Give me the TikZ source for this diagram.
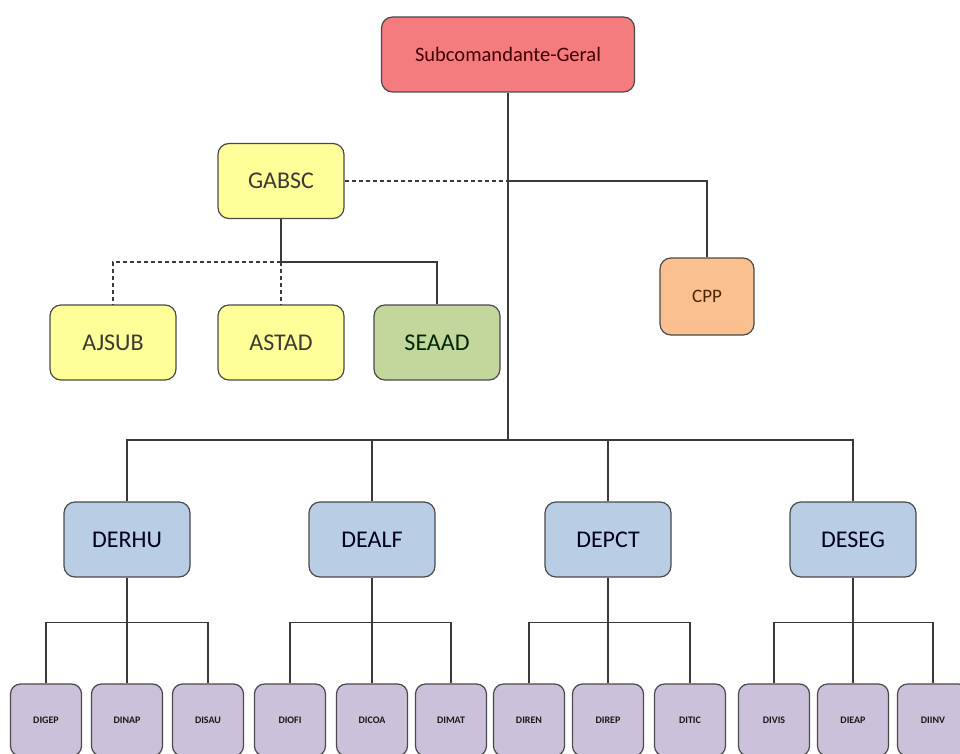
\documentclass[tikz,border=0pt]{standalone}
\usepackage{fontspec}
\setmainfont{Carlito}
\definecolor{redfill}{HTML}{F47B7E}
\definecolor{yelfill}{HTML}{FFFF99}
\definecolor{grnfill}{HTML}{C3D69B}
\definecolor{orgfill}{HTML}{FAC090}
\definecolor{blufill}{HTML}{B9CDE5}
\definecolor{purfill}{HTML}{CCC1DA}
\definecolor{edge}{HTML}{4A4A4A}
\definecolor{wire}{HTML}{3A3A3A}
\tikzset{
  box/.style={draw=edge, line width=1.2pt, rounded corners=11pt, align=center, inner sep=0pt},
  bigbox/.style={box, minimum width=126pt, minimum height=75pt, font=\fontsize{24}{26}\selectfont},
  topbox/.style={box, fill=redfill, minimum width=253pt, minimum height=75pt, text=red!25!black, font=\fontsize{20.5}{22}\selectfont},
  yelbox/.style={bigbox, fill=yelfill, text=yellow!12!black},
  grnbox/.style={bigbox, fill=grnfill, text=green!15!black},
  orgbox/.style={box, fill=orgfill, minimum width=94pt, minimum height=77pt, text=orange!30!black, font=\fontsize{19}{21}\selectfont},
  depbox/.style={bigbox, fill=blufill, text=blue!12!black},
  subbox/.style={box, fill=purfill, minimum width=71pt, minimum height=72pt, rounded corners=10pt, text=black!90, font=\fontsize{10}{12}\selectfont\bfseries},
  wire/.style={draw=wire, line width=1.3pt},
  dwire/.style={wire, dash pattern=on 4pt off 3pt},
}
\begin{document}
\begin{tikzpicture}[x=1pt,y=-1pt]
\clip (0,0) rectangle (960,754);
\fill[white] (0,0) rectangle (960,754);

% command level
\node[topbox] (sub) at (508,54.5) {Subcomandante-Geral};
\node[yelbox] (gabsc) at (281,181) {GABSC};
\node[orgbox] (cpp) at (707,296.5) {CPP};

% advisory units
\node[yelbox] (ajsub) at (113,342.5) {AJSUB};
\node[yelbox] (astad) at (281,342.5) {ASTAD};
\node[grnbox] (seaad) at (437,342.5) {SEAAD};

% departments
\node[depbox] (derhu) at (127,539.5) {DERHU};
\node[depbox] (dealf) at (372,539.5) {DEALF};
\node[depbox] (depct) at (608,539.5) {DEPCT};
\node[depbox] (deseg) at (853,539.5) {DESEG};

% directorates
\node[subbox] (digep) at (46,720) {DIGEP};
\node[subbox] (dinap) at (127,720) {DINAP};
\node[subbox] (disau) at (208,720) {DISAU};
\node[subbox] (diofi) at (290,720) {DIOFI};
\node[subbox] (dicoa) at (372,720) {DICOA};
\node[subbox] (dimat) at (451,720) {DIMAT};
\node[subbox] (diren) at (529,720) {DIREN};
\node[subbox] (direp) at (608,720) {DIREP};
\node[subbox] (ditic) at (690,720) {DITIC};
\node[subbox] (divis) at (774,720) {DIVIS};
\node[subbox] (dieap) at (853,720) {DIEAP};
\node[subbox] (diinv) at (933,720) {DIINV};

% main spine and department bus
\coordinate (bus) at (508,440);
\coordinate (gline) at (508,181);
\draw[wire] (sub.south) -- (bus);
\draw[wire] (derhu.north) |- (bus) -| (deseg.north);
\draw[wire] (dealf.north) -- (dealf.north |- bus);
\draw[wire] (depct.north) -- (depct.north |- bus);

% cabinet and CPP
\draw[dwire] (gabsc.east) -- (gline);
\draw[wire] (gline) -| (cpp.north);

% cabinet to advisory units
\coordinate (gj) at (281,262);
\draw[wire] (gabsc.south) -- (gj) -| (seaad.north);
\draw[dwire] (gj) -| (ajsub.north);
\draw[dwire] (gj) -- (astad.north);

% department to directorate buses
\foreach \d/\a/\b/\c in {derhu/digep/dinap/disau, dealf/diofi/dicoa/dimat,
                         depct/diren/direp/ditic, deseg/divis/dieap/diinv}{
  \draw[wire] (\a.north) -- ++(0,-61) -| (\c.north);
  \draw[wire] (\d.south) -- (\b.north);
}
\end{tikzpicture}
\end{document}
